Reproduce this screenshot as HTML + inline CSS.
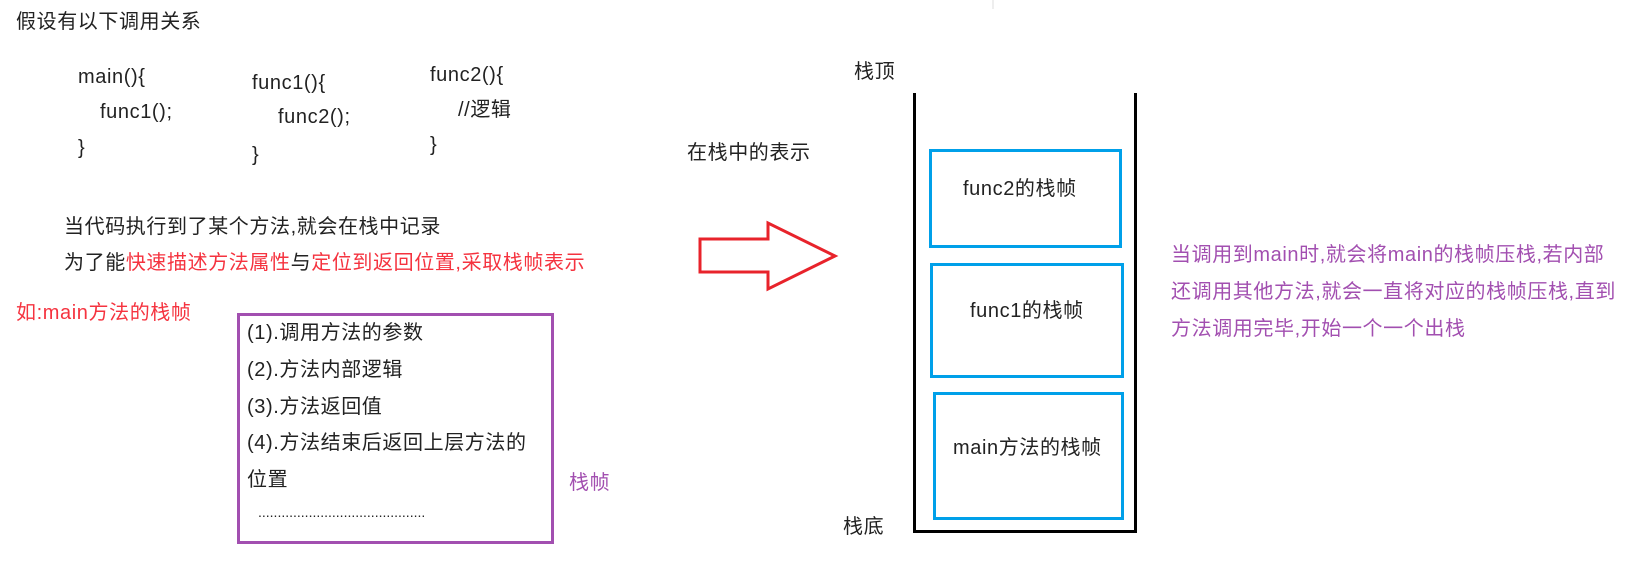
<!DOCTYPE html>
<html><head><meta charset="utf-8"><style>
body{margin:0;width:1641px;height:577px;background:#fff;position:relative;overflow:hidden;font-family:"Liberation Sans","Noto Sans CJK SC",sans-serif;font-size:20px;color:#222;}
.t{position:absolute;line-height:24px;white-space:nowrap;letter-spacing:0.6px;}
.r{color:#f5333f}
.p{color:#a24fb0}
</style></head><body>
<div class="t" style="left:16px;top:10px">假设有以下调用关系</div>
<div class="t" style="left:78px;top:65px">main(){</div>
<div class="t" style="left:100px;top:100px">func1();</div>
<div class="t" style="left:78px;top:136px">}</div>
<div class="t" style="left:252px;top:71px">func1(){</div>
<div class="t" style="left:278px;top:105px">func2();</div>
<div class="t" style="left:252px;top:143px">}</div>
<div class="t" style="left:430px;top:63px">func2(){</div>
<div class="t" style="left:458px;top:98px">//逻辑</div>
<div class="t" style="left:430px;top:133px">}</div>
<div class="t" style="left:64px;top:215px">当代码执行到了某个方法,就会在栈中记录</div>
<div class="t" style="left:64px;top:251px">为了能<span class="r">快速描述方法属性</span>与<span class="r">定位到返回位置,采取栈帧表示</span></div>
<div class="t r" style="left:16px;top:301px">如:main方法的栈帧</div>
<div style="position:absolute;left:237px;top:313px;width:311px;height:225px;border:3px solid #a24fb0"></div>
<div class="t" style="left:247px;top:321px">(1).调用方法的参数</div>
<div class="t" style="left:247px;top:358px">(2).方法内部逻辑</div>
<div class="t" style="left:247px;top:395px">(3).方法返回值</div>
<div class="t" style="left:247px;top:431px">(4).方法结束后返回上层方法的</div>
<div class="t" style="left:247px;top:468px">位置</div>
<div class="t" style="left:258px;top:500px;font-size:14px;letter-spacing:0">...........................................</div>
<div class="t p" style="left:569px;top:471px">栈帧</div>
<div class="t" style="left:687px;top:141px">在栈中的表示</div>
<svg style="position:absolute;left:0;top:0" width="1641" height="577">
<polygon points="700,239 768,239 768,223 835,256 768,289 768,272 700,272" fill="none" stroke="#e8232b" stroke-width="3"/>
<polyline points="914.5,93 914.5,531.5 1135.5,531.5 1135.5,93" fill="none" stroke="#000" stroke-width="3"/>
<rect x="930.5" y="150.5" width="190" height="96" fill="none" stroke="#00a0e9" stroke-width="3"/>
<rect x="931.5" y="264.5" width="191" height="112" fill="none" stroke="#00a0e9" stroke-width="3"/>
<rect x="934.5" y="393.5" width="188" height="125" fill="none" stroke="#00a0e9" stroke-width="3"/>
<line x1="993" y1="0" x2="993" y2="9" stroke="#ddd" stroke-width="1"/>
</svg>
<div class="t" style="left:854px;top:60px">栈顶</div>
<div class="t" style="left:843px;top:515px">栈底</div>
<div class="t" style="left:963px;top:177px">func2的栈帧</div>
<div class="t" style="left:970px;top:299px">func1的栈帧</div>
<div class="t" style="left:953px;top:436px">main方法的栈帧</div>
<div class="t p" style="left:1171px;top:243px">当调用到main时,就会将main的栈帧压栈,若内部</div>
<div class="t p" style="left:1171px;top:280px">还调用其他方法,就会一直将对应的栈帧压栈,直到</div>
<div class="t p" style="left:1171px;top:317px">方法调用完毕,开始一个一个出栈</div>
</body></html>
